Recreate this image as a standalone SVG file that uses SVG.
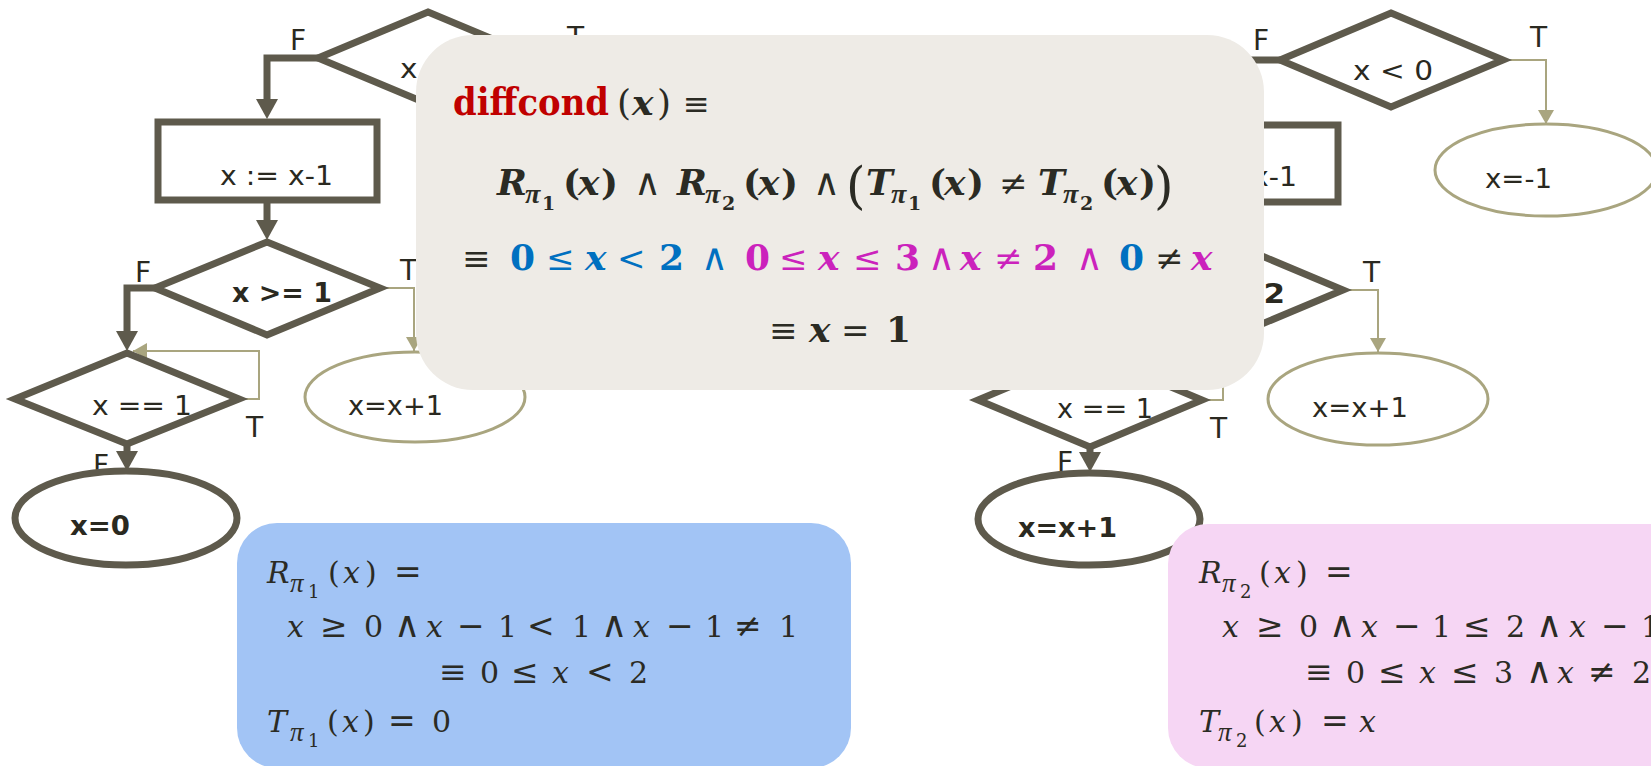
<svg xmlns="http://www.w3.org/2000/svg" width="1651" height="766" viewBox="0 0 1651 766">
<style>
.dk{fill:#FFFFFF;stroke:#5E5A4C;stroke-width:7;stroke-linejoin:miter}
.ol{fill:#FFFFFF;stroke:#A9A57F;stroke-width:3}
.cd{fill:none;stroke:#5E5A4C;stroke-width:7}
.ct{fill:none;stroke:#A9A57F;stroke-width:2}
.lb{font-family:'DejaVu Sans','Liberation Sans',sans-serif;font-size:27px;fill:#2A2920}
.bd{font-weight:bold}
.ft{font-family:'DejaVu Sans','Liberation Sans',sans-serif;font-size:28px;fill:#2A2920}
.m{font-family:'DejaVu Serif','Liberation Serif',serif;fill:#2B2B24}
.g{font-size:36px}
.s{font-size:30px}
.i{font-style:italic}
.b{font-weight:bold}
.n{font-weight:normal}
.bl{fill:#0070C0}
.mg{fill:#CB22BC}
.an{font-family:'DejaVu Sans','DejaVu Serif',sans-serif;font-weight:200}
.pi{font-family:'Liberation Serif','DejaVu Serif',serif;font-style:italic}
.os{font-size:33px}
.og{font-size:34px}
</style>
<defs>
<marker id="ak" viewBox="0 0 20 22" refX="12" refY="11" markerWidth="20" markerHeight="22" markerUnits="userSpaceOnUse" orient="auto"><path d="M0,0 L20,11 L0,22 Z" fill="#5E5A4C"/></marker>
<marker id="at" viewBox="0 0 14 16" refX="14" refY="8" markerWidth="14" markerHeight="16" markerUnits="userSpaceOnUse" orient="auto"><path d="M0,0 L14,8 L0,16 Z" fill="#A9A57F"/></marker>
</defs>
<rect width="1651" height="766" fill="#FFFFFF"/>

<g id="connectors">
<path class="cd" d="M318,58 H267 V111" marker-end="url(#ak)"/>
<path class="cd" d="M267,203 V232" marker-end="url(#ak)"/>
<path class="cd" d="M157,288 H127 V343" marker-end="url(#ak)"/>
<path class="cd" d="M127,444 V463" marker-end="url(#ak)"/>
<path class="ct" d="M380,288 H414 V351" marker-end="url(#at)"/>
<path class="ct" d="M239,399 H259 V351 H133" marker-end="url(#at)"/>
<path class="cd" d="M1280,60 H1228 V114" marker-end="url(#ak)"/>
<path class="cd" d="M1090,447 V464" marker-end="url(#ak)"/>
<path class="ct" d="M1503,60 H1546 V124" marker-end="url(#at)"/>
<path class="ct" d="M1343,290 H1378 V352" marker-end="url(#at)"/>
<path class="ct" d="M1202,400 H1223 V351 H1093" marker-end="url(#at)"/>
<text class="ft" x="290" y="50">F</text>
<text class="ft" x="567" y="47">T</text>
<text class="ft" x="135" y="282">F</text>
<text class="ft" x="400" y="280">T</text>
<text class="ft" x="246" y="437">T</text>
<text class="ft" x="93" y="475">F</text>
<text class="ft" x="1253" y="50">F</text>
<text class="ft" x="1530" y="47">T</text>
<text class="ft" x="1363" y="282">T</text>
<text class="ft" x="1210" y="438">T</text>
<text class="ft" x="1057" y="472">F</text>
</g>

<g id="left-cond-x-lt-0">
<polygon class="dk" points="428,12 538,58 428,104 318,58"/>
<text class="lb" x="400" y="78" textLength="80" lengthAdjust="spacingAndGlyphs">x &lt; 0</text>
</g>
<g id="left-assign">
<rect class="dk" x="158" y="122" width="219" height="78"/>
<text class="lb" x="220" y="185" textLength="113" lengthAdjust="spacingAndGlyphs">x := x-1</text>
</g>
<g id="left-cond-x-ge-1">
<polygon class="dk" points="267,242 380,288 267,335 155,288"/>
<text class="lb bd" x="232" y="302" font-size="30" textLength="100" lengthAdjust="spacingAndGlyphs">x &gt;= 1</text>
</g>
<g id="left-x-plus-1">
<ellipse class="ol" cx="415" cy="397" rx="110" ry="45"/>
<text class="lb" x="348" y="415" textLength="95" lengthAdjust="spacingAndGlyphs">x=x+1</text>
</g>
<g id="left-cond-x-eq-1">
<polygon class="dk" points="127,353 239,399 127,444 15,399"/>
<text class="lb" x="92" y="415" textLength="100" lengthAdjust="spacingAndGlyphs">x == 1</text>
</g>
<g id="left-x-0">
<ellipse class="dk" cx="126" cy="518" rx="111" ry="47"/>
<text class="lb bd" x="70" y="535" textLength="60" lengthAdjust="spacingAndGlyphs">x=0</text>
</g>

<g id="right-cond-x-lt-0">
<polygon class="dk" points="1391,13 1503,60 1391,107 1280,60"/>
<text class="lb" x="1353" y="80" textLength="80" lengthAdjust="spacingAndGlyphs">x &lt; 0</text>
</g>
<g id="right-x-minus-1">
<ellipse class="ol" cx="1546" cy="170" rx="111" ry="46"/>
<text class="lb" x="1485" y="188" textLength="67" lengthAdjust="spacingAndGlyphs">x=-1</text>
</g>
<g id="right-assign">
<rect class="dk" x="1119" y="125" width="219" height="77"/>
<text class="lb" x="1184" y="186" textLength="113" lengthAdjust="spacingAndGlyphs">x := x-1</text>
</g>
<g id="right-cond-x-gt-2">
<polygon class="dk" points="1231,243 1343,290 1231,337 1119,290"/>
<text class="lb bd" x="1196" y="303" font-size="30" textLength="89" lengthAdjust="spacingAndGlyphs">x &gt; 2</text>
</g>
<g id="right-x-plus-1-thin">
<ellipse class="ol" cx="1378" cy="399" rx="110" ry="46"/>
<text class="lb" x="1312" y="417" textLength="96" lengthAdjust="spacingAndGlyphs">x=x+1</text>
</g>
<g id="right-cond-x-eq-1">
<polygon class="dk" points="1090,353 1202,400 1090,447 978,400"/>
<text class="lb" x="1057" y="418" textLength="96" lengthAdjust="spacingAndGlyphs">x == 1</text>
</g>
<g id="right-x-plus-1">
<ellipse class="dk" cx="1089" cy="519" rx="111" ry="46"/>
<text class="lb bd" x="1018" y="537" textLength="99" lengthAdjust="spacingAndGlyphs">x=x+1</text>
</g>

<g id="diffcond-box">
<rect x="416" y="35" width="848" height="355" rx="57" ry="57" fill="#EEEBE6"/>
<text class="m b" x="453" y="115" font-size="38" style="fill:#C00000" textLength="156" lengthAdjust="spacingAndGlyphs">diffcond</text>
<text class="m g" y="115"><tspan x="617">(</tspan><tspan x="632" class="i b">x</tspan><tspan x="657">)</tspan><tspan x="683" font-size="32">≡</tspan></text>
<text class="m g b" y="195"><tspan x="497" class="i">R</tspan><tspan x="525" y="203" font-size="28" class="pi">π</tspan><tspan x="542" y="210" font-size="19">1</tspan><tspan x="563" y="195">(</tspan><tspan x="578" class="i">x</tspan><tspan x="601">)</tspan><tspan x="634" class="an" font-size="37">∧</tspan><tspan x="677" class="i">R</tspan><tspan x="705" y="203" font-size="28" class="pi">π</tspan><tspan x="722" y="210" font-size="19">2</tspan><tspan x="743" y="195">(</tspan><tspan x="758" class="i">x</tspan><tspan x="781">)</tspan><tspan x="813" class="an" font-size="37">∧</tspan><tspan x="846" y="203" font-size="50" class="n">(</tspan><tspan x="866" y="195" class="i">T</tspan><tspan x="891" y="203" font-size="28" class="pi">π</tspan><tspan x="908" y="210" font-size="19">1</tspan><tspan x="929" y="195">(</tspan><tspan x="944" class="i">x</tspan><tspan x="967">)</tspan><tspan x="999" class="n og">≠</tspan><tspan x="1038" class="i">T</tspan><tspan x="1063" y="203" font-size="28" class="pi">π</tspan><tspan x="1080" y="210" font-size="19">2</tspan><tspan x="1101" y="195">(</tspan><tspan x="1116" class="i">x</tspan><tspan x="1139">)</tspan><tspan x="1154" y="203" font-size="50" class="n">)</tspan></text>
<text class="m g" y="270"><tspan x="462" class="og">≡</tspan><tspan x="510" class="b bl">0</tspan><tspan x="546" class="bl og">≤</tspan><tspan x="585" class="b i bl">x</tspan><tspan x="617" class="bl og">&lt;</tspan><tspan x="659" class="b bl">2</tspan><tspan x="701" class="bl an" font-size="37">∧</tspan><tspan x="745" class="b mg">0</tspan><tspan x="779" class="mg og">≤</tspan><tspan x="818" class="b i mg">x</tspan><tspan x="853" class="mg og">≤</tspan><tspan x="895" class="b mg">3</tspan><tspan x="928" class="mg an" font-size="37">∧</tspan><tspan x="960" class="b i mg">x</tspan><tspan x="994" class="mg og">≠</tspan><tspan x="1033" class="b mg">2</tspan><tspan x="1076" class="mg an" font-size="37">∧</tspan><tspan x="1119" class="b bl">0</tspan><tspan x="1155" class="og">≠</tspan><tspan x="1191" class="b i mg">x</tspan></text>
<text class="m g" y="342"><tspan x="769" class="og">≡</tspan><tspan x="809" class="b i">x</tspan><tspan x="841" class="og">=</tspan><tspan x="886" class="b">1</tspan></text>
</g>

<g id="pi1-box">
<rect x="237" y="523" width="614" height="245" rx="40" ry="40" fill="#A2C4F5"/>
<text class="m s" y="583"><tspan x="267" class="i">R</tspan><tspan x="290" y="592" font-size="27" class="pi">π</tspan><tspan x="308" y="598" font-size="18">1</tspan><tspan x="328" y="583">(</tspan><tspan x="343" class="i">x</tspan><tspan x="365">)</tspan><tspan x="394" class="os">=</tspan></text>
<text class="m s" y="637"><tspan x="287" class="i">x</tspan><tspan x="320" class="os">≥</tspan><tspan x="364">0</tspan><tspan x="394" class="an" font-size="36">∧</tspan><tspan x="426" class="i">x</tspan><tspan x="457" class="os">−</tspan><tspan x="498">1</tspan><tspan x="527" class="os">&lt;</tspan><tspan x="572">1</tspan><tspan x="601" class="an" font-size="36">∧</tspan><tspan x="633" class="i">x</tspan><tspan x="666" class="os">−</tspan><tspan x="705">1</tspan><tspan x="734" class="os">≠</tspan><tspan x="779">1</tspan></text>
<text class="m s" y="683"><tspan x="439" class="os">≡</tspan><tspan x="480">0</tspan><tspan x="511" class="os">≤</tspan><tspan x="552" class="i">x</tspan><tspan x="586" class="os">&lt;</tspan><tspan x="629">2</tspan></text>
<text class="m s" y="732"><tspan x="267" class="i">T</tspan><tspan x="290" y="741" font-size="27" class="pi">π</tspan><tspan x="308" y="747" font-size="18">1</tspan><tspan x="327" y="732">(</tspan><tspan x="342" class="i">x</tspan><tspan x="363">)</tspan><tspan x="388" class="os">=</tspan><tspan x="432">0</tspan></text>
</g>

<g id="pi2-box">
<rect x="1168" y="524" width="520" height="244" rx="40" ry="40" fill="#F6D6F4"/>
<text class="m s" y="583"><tspan x="1199" class="i">R</tspan><tspan x="1222" y="592" font-size="27" class="pi">π</tspan><tspan x="1240" y="598" font-size="18">2</tspan><tspan x="1259" y="583">(</tspan><tspan x="1274" class="i">x</tspan><tspan x="1296">)</tspan><tspan x="1325" class="os">=</tspan></text>
<text class="m s" y="637"><tspan x="1222" class="i">x</tspan><tspan x="1256" class="os">≥</tspan><tspan x="1299">0</tspan><tspan x="1329" class="an" font-size="36">∧</tspan><tspan x="1361" class="i">x</tspan><tspan x="1393" class="os">−</tspan><tspan x="1432">1</tspan><tspan x="1463" class="os">≤</tspan><tspan x="1506">2</tspan><tspan x="1536" class="an" font-size="36">∧</tspan><tspan x="1569" class="i">x</tspan><tspan x="1601" class="os">−</tspan><tspan x="1641">1</tspan></text>
<text class="m s" y="683"><tspan x="1305" class="os">≡</tspan><tspan x="1346">0</tspan><tspan x="1378" class="os">≤</tspan><tspan x="1419" class="i">x</tspan><tspan x="1451" class="os">≤</tspan><tspan x="1494">3</tspan><tspan x="1526" class="an" font-size="36">∧</tspan><tspan x="1557" class="i">x</tspan><tspan x="1588" class="os">≠</tspan><tspan x="1632">2</tspan></text>
<text class="m s" y="732"><tspan x="1199" class="i">T</tspan><tspan x="1218" y="741" font-size="27" class="pi">π</tspan><tspan x="1236" y="747" font-size="18">2</tspan><tspan x="1254" y="732">(</tspan><tspan x="1269" class="i">x</tspan><tspan x="1291">)</tspan><tspan x="1321" class="os">=</tspan><tspan x="1359" class="i">x</tspan></text>
</g>
</svg>
